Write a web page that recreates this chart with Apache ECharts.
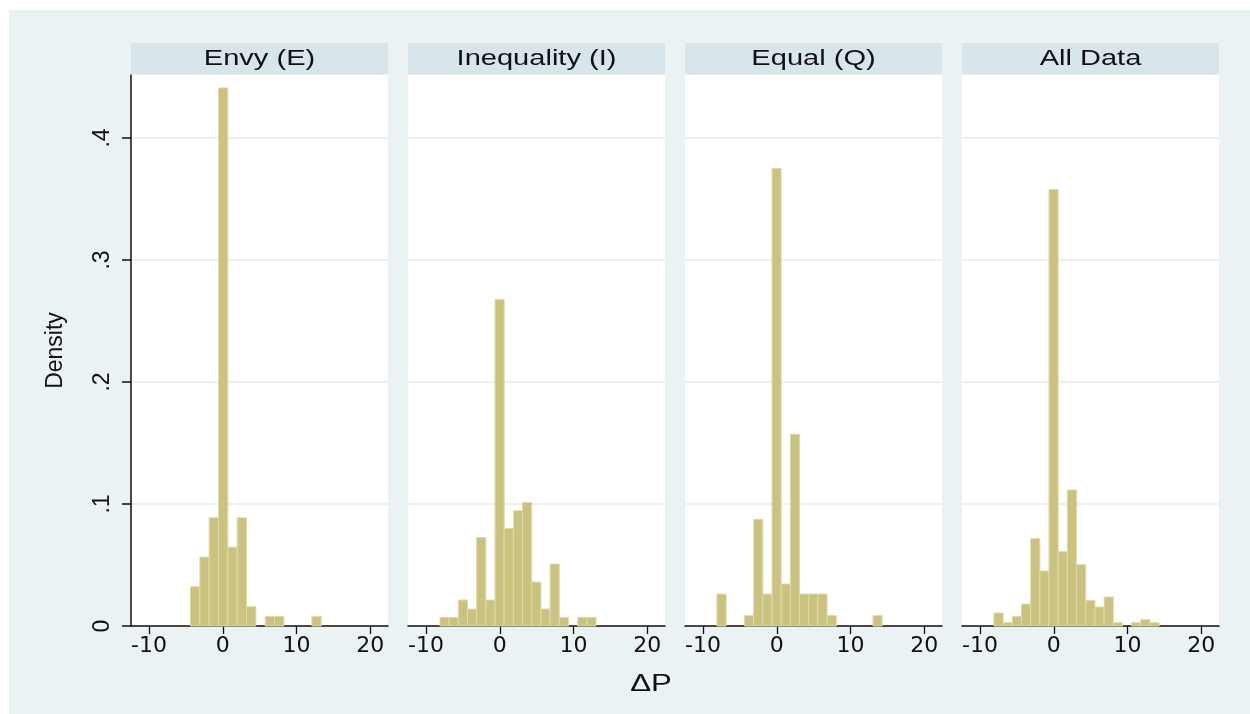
<!DOCTYPE html>
<html>
<head>
<meta charset="utf-8">
<script src="https://cdn.jsdelivr.net/npm/echarts@6/dist/echarts.min.js"></script>
<style>
  html, body { margin: 0; padding: 0; background: #ffffff; }
  #chart { width: 1250px; height: 714px; }
</style>
</head>
<body>
<div id="chart"></div>
<script>
// ---------- data ----------
const panelTitles = ['Envy (E)', 'Inequality (I)', 'Equal (Q)', 'All Data'];
const xTicks = [-10, 0, 10, 20];
const yTicks = [0, 0.1, 0.2, 0.3, 0.4];
const yAxisTitle = 'Density';
const xAxisTitle = 'ΔP';

// histogram bins: first left edge, bin width, densities
const envyStart = -4.38, envyWidth = 1.266;
const envyDensity = [0.0322, 0.0565, 0.0887, 0.441, 0.0646, 0.0887, 0.0158, 0, 0.0079, 0.0079, 0, 0, 0, 0.0079];

const inequalityStart = -8.12, inequalityWidth = 1.245;
const inequalityDensity = [0.0071, 0.0071, 0.0213, 0.0139, 0.0725, 0.0213, 0.2675, 0.0799, 0.0944, 0.1012, 0.036, 0.0139, 0.0508, 0.0071, 0, 0.0071, 0.0071];

const equalStart = -8.12, equalWidth = 1.245;
const equalDensity = [0.0262, 0, 0, 0.0085, 0.0874, 0.0262, 0.3749, 0.0344, 0.1571, 0.0262, 0.0262, 0.0262, 0.0085, 0, 0, 0, 0, 0.0085];

const allStart = -8.12, allWidth = 1.245;
const allDensity = [0.0107, 0.0027, 0.0079, 0.018, 0.0716, 0.0451, 0.3577, 0.0609, 0.1115, 0.0503, 0.021, 0.0156, 0.0238, 0.0027, 0, 0.0027, 0.0052, 0.0027];

// ---------- build ----------
const panels = [
  { start: envyStart, width: envyWidth, dens: envyDensity },
  { start: inequalityStart, width: inequalityWidth, dens: inequalityDensity },
  { start: equalStart, width: equalWidth, dens: equalDensity },
  { start: allStart, width: allWidth, dens: allDensity }
];

const BG = '#eaf2f3';
const HEAD = '#d8e5ea';
const BAR = '#c9c280';
const BAR_EDGE = '#e0dba6';
const GRID = '#e6eef1';

const gridLeft = [131, 408, 685, 962];
const gridW = 257, gridTop = 75, gridH = 551;
const X_MIN = -12.45, X_MAX = 22.4, Y_MAX = 0.4516;

const grids = [], xAxes = [], yAxes = [], series = [], graphics = [];

graphics.push({ type: 'rect', z: -10, shape: { x: 9, y: 10, width: 1241, height: 704 }, style: { fill: BG } });

panels.forEach((p, i) => {
  grids.push({ left: gridLeft[i], top: gridTop, width: gridW, height: gridH, show: true, backgroundColor: '#ffffff', borderWidth: 0 });
  xAxes.push({
    type: 'value', gridIndex: i, min: X_MIN, max: X_MAX,
    axisLine: { show: true, onZero: false, lineStyle: { color: '#111', width: 1.5 } },
    axisTick: { show: true, length: 8, customValues: xTicks, lineStyle: { color: '#111', width: 1.3 } },
    axisLabel: { customValues: xTicks, margin: 9, color: '#111', fontSize: 22, fontFamily: 'DejaVu Sans' },
    splitLine: { show: false }
  });
  yAxes.push({
    type: 'value', gridIndex: i, min: 0, max: Y_MAX,
    name: i === 0 ? yAxisTitle : '',
    nameLocation: 'middle', nameGap: 64, nameRotate: 90,
    nameTextStyle: { color: '#111', fontSize: 23, fontFamily: 'Liberation Sans' },
    axisLine: { show: i === 0, onZero: false, lineStyle: { color: '#111', width: 1.5 } },
    axisTick: { show: i === 0, length: 9, customValues: yTicks, lineStyle: { color: '#111', width: 1.5 } },
    axisLabel: {
      show: i === 0, customValues: yTicks, rotate: 90, margin: 17, color: '#111',
      fontSize: 23, fontFamily: 'Liberation Sans',
      formatter: v => (v === 0 ? '0' : v.toFixed(1).replace(/^0/, ''))
    },
    splitLine: { show: true, lineStyle: { color: GRID, width: 1.5 } }
  });
  const data = p.dens.map((d, k) => [p.start + k * p.width, p.start + (k + 1) * p.width, d]);
  series.push({
    type: 'custom', xAxisIndex: i, yAxisIndex: i, data: data,
    encode: { x: [0, 1], y: 2 },
    renderItem: (params, api) => {
      const h = api.value(2);
      if (!h) return null;
      const p0 = api.coord([api.value(0), h]);
      const p1 = api.coord([api.value(1), 0]);
      return {
        type: 'rect',
        shape: { x: p0[0], y: p0[1], width: p1[0] - p0[0], height: p1[1] - p0[1] },
        style: { fill: BAR, stroke: BAR_EDGE, lineWidth: 1 }
      };
    }
  });
  // facet header strip
  graphics.push({ type: 'rect', shape: { x: gridLeft[i], y: 43, width: gridW, height: 31 }, style: { fill: HEAD } });
  graphics.push({
    type: 'text', x: gridLeft[i] + gridW / 2, y: 59, scaleX: 1.32,
    style: { text: panelTitles[i], fill: '#111', font: '22px "Liberation Sans"', textAlign: 'center', textVerticalAlign: 'middle' }
  });
});

graphics.push({
  type: 'text', x: 651, y: 684, scaleX: 1.3,
  style: { text: xAxisTitle, fill: '#111', font: '24px "Liberation Sans"', textAlign: 'center', textVerticalAlign: 'middle' }
});

const chart = echarts.init(document.getElementById('chart'), null, { renderer: 'canvas' });
chart.setOption({
  backgroundColor: '#ffffff',
  animation: false,
  graphic: graphics,
  grid: grids,
  xAxis: xAxes,
  yAxis: yAxes,
  series: series
});
</script>
</body>
</html>
